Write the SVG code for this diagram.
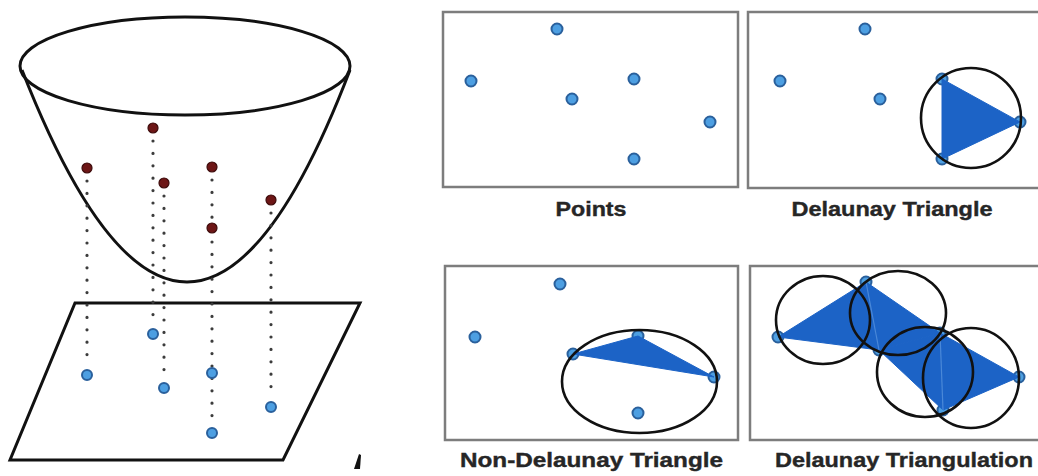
<svg xmlns="http://www.w3.org/2000/svg" width="1038" height="476" viewBox="0 0 1038 476">
<defs>
<style>
.outline{fill:none;stroke:#111;stroke-width:3}
.panel{fill:#fff;stroke:#7d7d7d;stroke-width:2.5}
.proj{fill:none;stroke:#3c3c3c;stroke-width:3.2;stroke-linecap:round;stroke-dasharray:0 12.4}
.red{fill:#6d1616;stroke:#3d0b0b;stroke-width:1.2}
.pt{fill:#4d9fe2;stroke:#2a609c;stroke-width:2}
.tri{fill:#1c63c6;stroke:#1c63c6;stroke-width:1;stroke-linejoin:round}
.edge{stroke:#4a88d8;stroke-width:1.2}
.circ{fill:none;stroke:#111;stroke-width:2.6}
.lbl{font-family:"Liberation Sans",Arial,sans-serif;font-weight:bold;font-size:21px;fill:#262626;stroke:#262626;stroke-width:0.4;text-anchor:middle}
</style>
</defs>
<rect width="1038" height="476" fill="#fff"/>

<g id="paraboloid">
<ellipse class="outline" cx="185" cy="66" rx="165" ry="49"/>
<path class="outline" d="M22,70 Q188,494 350,70"/>
</g>
<g id="plane">
<polygon class="outline" points="75,303 360,303 283,460 10,460"/>
<polygon points="354,469 359,454 361,455 360,469" fill="#111"/>
</g>

<g id="connectors">
<line class="proj" x1="87" y1="181" x2="87" y2="365"/>
<line class="proj" x1="153" y1="141" x2="153" y2="324"/>
<line class="proj" x1="164" y1="196" x2="164" y2="378"/>
<line class="proj" x1="212" y1="180" x2="212" y2="423"/>
<line class="proj" x1="271" y1="213" x2="271" y2="397"/>
</g>

<g id="lifted-points">
<circle class="red" cx="153" cy="128" r="5"/>
<circle class="red" cx="87" cy="168" r="5"/>
<circle class="red" cx="164" cy="183" r="5"/>
<circle class="red" cx="212" cy="167" r="5"/>
<circle class="red" cx="271" cy="200" r="5"/>
<circle class="red" cx="212" cy="228" r="5"/>
</g>
<g id="plane-points">
<circle class="pt" cx="153" cy="334" r="5"/>
<circle class="pt" cx="87" cy="375" r="5"/>
<circle class="pt" cx="164" cy="388" r="5"/>
<circle class="pt" cx="212" cy="373" r="5"/>
<circle class="pt" cx="271" cy="407" r="5"/>
<circle class="pt" cx="212" cy="433" r="5"/>
</g>

<g id="panel-points">
<rect class="panel" x="443" y="12" width="295" height="175"/>
<circle class="pt" cx="557" cy="29" r="5.5"/>
<circle class="pt" cx="471" cy="81" r="5.5"/>
<circle class="pt" cx="572" cy="99" r="5.5"/>
<circle class="pt" cx="634" cy="79" r="5.5"/>
<circle class="pt" cx="710" cy="122" r="5.5"/>
<circle class="pt" cx="634" cy="159" r="5.5"/>
<text class="lbl" x="591" y="216" textLength="71" lengthAdjust="spacingAndGlyphs">Points</text>
</g>

<g id="panel-delaunay-triangle">
<rect class="panel" x="748" y="12" width="300" height="176"/>
<circle class="pt" cx="865" cy="29" r="5.5"/>
<circle class="pt" cx="780" cy="81" r="5.5"/>
<circle class="pt" cx="880" cy="99" r="5.5"/>
<circle class="pt" cx="942" cy="79" r="5.5"/>
<circle class="pt" cx="1020" cy="122" r="5.5"/>
<circle class="pt" cx="942" cy="159" r="5.5"/>
<polygon class="tri" points="942,79 1020,122 942,159"/>
<circle class="circ" cx="971" cy="118" r="50"/>
<text class="lbl" x="892" y="216" textLength="201" lengthAdjust="spacingAndGlyphs">Delaunay Triangle</text>
</g>

<g id="panel-non-delaunay">
<rect class="panel" x="445" y="266" width="293" height="174"/>
<circle class="pt" cx="560" cy="284" r="5.5"/>
<circle class="pt" cx="475" cy="337" r="5.5"/>
<circle class="pt" cx="573" cy="354" r="5.5"/>
<circle class="pt" cx="638" cy="336" r="5.5"/>
<circle class="pt" cx="714" cy="377" r="5.5"/>
<circle class="pt" cx="638" cy="413" r="5.5"/>
<polygon class="tri" points="573,354 638,336 714,377"/>
<ellipse class="circ" cx="639.5" cy="381.5" rx="77.5" ry="51.5"/>
<text class="lbl" x="591.5" y="467" textLength="263" lengthAdjust="spacingAndGlyphs">Non-Delaunay Triangle</text>
</g>

<g id="panel-triangulation">
<rect class="panel" x="750" y="266" width="300" height="174"/>
<circle class="pt" cx="778" cy="337" r="5.5"/>
<circle class="pt" cx="866" cy="282" r="5.5"/>
<circle class="pt" cx="879" cy="350" r="5.5"/>
<circle class="pt" cx="940" cy="333" r="5.5"/>
<circle class="pt" cx="943" cy="410" r="5.5"/>
<circle class="pt" cx="1019" cy="377" r="5.5"/>
<polygon class="tri" points="778,337 866,282 879,350"/>
<polygon class="tri" points="866,282 940,333 879,350"/>
<polygon class="tri" points="879,350 940,333 943,410"/>
<polygon class="tri" points="940,333 1019,377 943,410"/>
<line class="edge" x1="866" y1="282" x2="879" y2="350"/>
<line class="edge" x1="940" y1="333" x2="943" y2="410"/>
<ellipse class="circ" cx="823" cy="320" rx="47" ry="44"/>
<ellipse class="circ" cx="898" cy="313" rx="48" ry="42"/>
<ellipse class="circ" cx="925" cy="372" rx="48" ry="45"/>
<ellipse class="circ" cx="971" cy="378" rx="48" ry="50"/>
<text class="lbl" x="904" y="467" textLength="258" lengthAdjust="spacingAndGlyphs">Delaunay Triangulation</text>
</g>
</svg>
